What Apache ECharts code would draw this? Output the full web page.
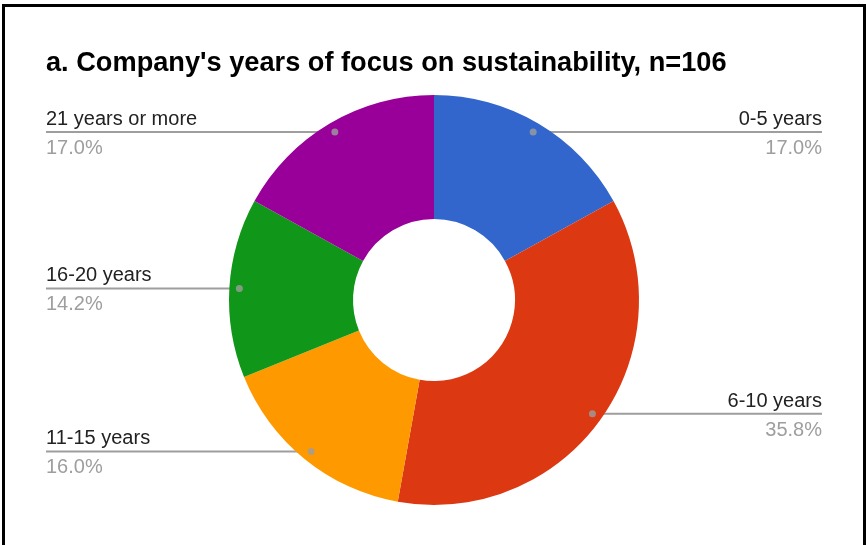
<!DOCTYPE html>
<html>
<head>
<meta charset="utf-8">
<style>
  html, body { margin: 0; padding: 0; background: #fff; }
  #chart { position: absolute; left: 0; top: 0; width: 867px; height: 545px; }
  #frame { position: absolute; left: 2px; top: 4px; width: 858px; height: 560px;
           border: 3px solid #000; border-bottom: none; box-sizing: content-box; pointer-events: none; }
</style>
<script src="https://cdn.jsdelivr.net/npm/echarts@6/dist/echarts.min.js"></script>
</head>
<body>
<div id="chart"></div>
<div id="frame"></div>
<script>
// Years a company has been focusing on sustainability (n = 106 respondents)
const categories = ['0-5 years', '6-10 years', '11-15 years', '16-20 years', '21 years or more'];
const counts = [18, 38, 17, 15, 18];
const sliceColors = ['#3366cc', '#dc3912', '#ff9900', '#109618', '#990099'];
const titleText = "a. Company's years of focus on sustainability, n=106";

const CENTER = [434, 300];
const INNER_R = 81;
const OUTER_R = 205;
const DOT_R = 195;        // radius where each leader line starts
const LEFT_EDGE = 46;     // text column for left-hand labels
const RIGHT_EDGE = 822;   // text column for right-hand labels
const FONT = 'Liberation Sans, Arial, sans-serif';

const total = counts.reduce((a, b) => a + b, 0);

// mid-angle (degrees, math orientation) of each slice, clockwise from 12 o'clock
const midAngles = [];
{
  let cum = 0;
  counts.forEach(v => {
    midAngles.push(90 - 360 * (cum + v / 2) / total);
    cum += v;
  });
}
const anchorPoints = midAngles.map(a => {
  const r = a * Math.PI / 180;
  return [CENTER[0] + DOT_R * Math.cos(r), CENTER[1] - DOT_R * Math.sin(r)];
});

const chart = echarts.init(document.getElementById('chart'), null, { renderer: 'canvas' });

chart.setOption({
  backgroundColor: '#ffffff',
  animation: false,
  title: {
    text: titleText,
    left: LEFT_EDGE,
    top: 50,
    padding: 0,
    textStyle: { fontFamily: FONT, fontWeight: 'bold', fontSize: 27.2, color: '#000' }
  },
  grid: { left: 0, right: 0, top: 0, bottom: 0 },
  xAxis: { type: 'value', min: 0, max: 867, show: false },
  yAxis: { type: 'value', min: 0, max: 545, inverse: true, show: false },
  series: [
    {
      type: 'pie',
      center: CENTER,
      radius: [INNER_R, OUTER_R],
      startAngle: 90,
      clockwise: true,
      percentPrecision: 1,
      silent: true,
      data: categories.map((name, i) => ({ name, value: counts[i], itemStyle: { color: sliceColors[i] } })),
      itemStyle: { borderWidth: 0 },
      label: {
        show: true,
        position: 'outer',
        fontFamily: FONT,
        formatter: p => '{n|' + p.name + '}\n{p|' + p.percent.toFixed(1) + '%}',
        rich: {
          n: { fontSize: 20, color: '#222222', lineHeight: 25, fontFamily: FONT },
          p: { fontSize: 20, color: '#9e9e9e', lineHeight: 33, fontFamily: FONT }
        }
      },
      labelLine: { show: true, length: 10, length2: 10, lineStyle: { color: '#9e9e9e', width: 2 } },
      labelLayout: function (params) {
        const i = params.dataIndex;
        const pt = anchorPoints[i];
        const right = Math.cos(midAngles[i] * Math.PI / 180) > 0;
        const edge = right ? RIGHT_EDGE : LEFT_EDGE;
        return {
          x: edge,
          y: pt[1] - 25,
          align: right ? 'right' : 'left',
          verticalAlign: 'top',
          labelLinePoints: [[pt[0], pt[1]], [edge, pt[1]], [edge, pt[1]]]
        };
      }
    },
    {
      // small dots marking where each leader line meets its slice
      type: 'scatter',
      silent: true,
      symbol: 'circle',
      symbolSize: 7,
      itemStyle: { color: '#9e9e9e' },
      data: anchorPoints,
      z: 5
    }
  ]
});
</script>
</body>
</html>
